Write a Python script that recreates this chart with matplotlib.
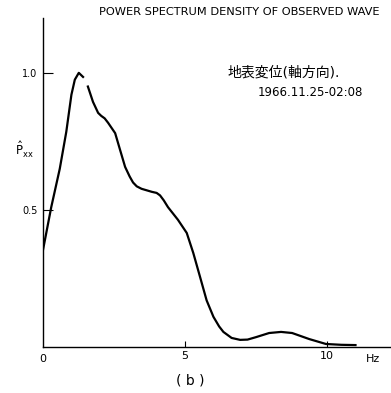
import matplotlib.pyplot as plt

# frequency (Hz) and normalised spectral density
# (the nan reproduces the small break in the printed curve after the peak)
freq = [0.0, 0.29, 0.59, 0.82, 1.0, 1.12, 1.26, 1.41, 1.5, 1.58, 1.76, 1.94, 2.05,
        2.17, 2.29, 2.54, 2.71, 2.89, 3.05, 3.17, 3.3, 3.47, 3.83, 4.0, 4.12,
        4.25, 4.4, 4.75, 5.06, 5.29, 5.53, 5.76, 6.0, 6.2, 6.35, 6.64, 6.94, 7.2,
        7.5, 7.96, 8.38, 8.77, 9.37, 9.96, 10.5, 11.0]
pxx = [0.354, 0.51, 0.65, 0.785, 0.92, 0.975, 1.0, 0.985, float('nan'), 0.95, 0.894,
       0.854, 0.843, 0.834, 0.818, 0.78, 0.72, 0.657, 0.622, 0.60, 0.586, 0.577,
       0.566, 0.562, 0.553, 0.535, 0.51, 0.464, 0.416, 0.343, 0.255, 0.17, 0.11,
       0.075, 0.055, 0.033, 0.026, 0.027, 0.036, 0.051, 0.055, 0.051, 0.029,
       0.011, 0.008, 0.007]

xticks = [5, 10]
yticks = [0.5, 1.0]

plt.rcParams['font.family'] = ['DejaVu Sans', 'Noto Sans CJK JP']

fig = plt.figure(figsize=(3.91, 3.93), dpi=100)
ax = fig.add_axes([43/391, (393-347)/393, 1 - 43/391, (347-18)/393])

ax.plot(freq, pxx, color='black', lw=1.6, solid_joinstyle='round')

ax.set_xlim(0, 12.25)
ax.set_ylim(0, 1.2)
ax.spines['top'].set_visible(False)
ax.spines['right'].set_visible(False)
ax.spines['left'].set_linewidth(1.0)
ax.spines['bottom'].set_linewidth(1.0)

ax.set_xticks(xticks)
ax.set_xticklabels(['5', '10'], fontsize=8)
ax.set_yticks(yticks)
ax.set_yticklabels(['0.5', '1.0'], fontsize=7)
ax.tick_params(axis='y', direction='in', length=7, width=0.8, pad=4)
ax.tick_params(axis='x', direction='in', length=4, width=0.8, pad=3)

ax.text(0, -0.025, '0', fontsize=8, ha='center', va='top')
ax.text(11.6, -0.025, 'Hz', fontsize=8, ha='center', va='top')
fig.text(24/391, 1 - 150/393, r'$\hat{\mathrm{P}}_{\mathrm{xx}}$', fontsize=8.5,
         ha='center', va='center')

fig.text(239/391, 1 - 12/393, 'POWER SPECTRUM DENSITY OF OBSERVED WAVE',
         fontsize=8.2, ha='center', va='center')
fig.text(228/391, 1 - 72/393, '地表変位(軸方向).', fontsize=10,
         ha='left', va='center')
fig.text(258/391, 1 - 92/393, '1966.11.25-02:08', fontsize=8.5,
         ha='left', va='center')
fig.text(190/391, 1 - 380/393, '( b )', fontsize=10, ha='center', va='center')

plt.savefig('out.png', dpi=100)
